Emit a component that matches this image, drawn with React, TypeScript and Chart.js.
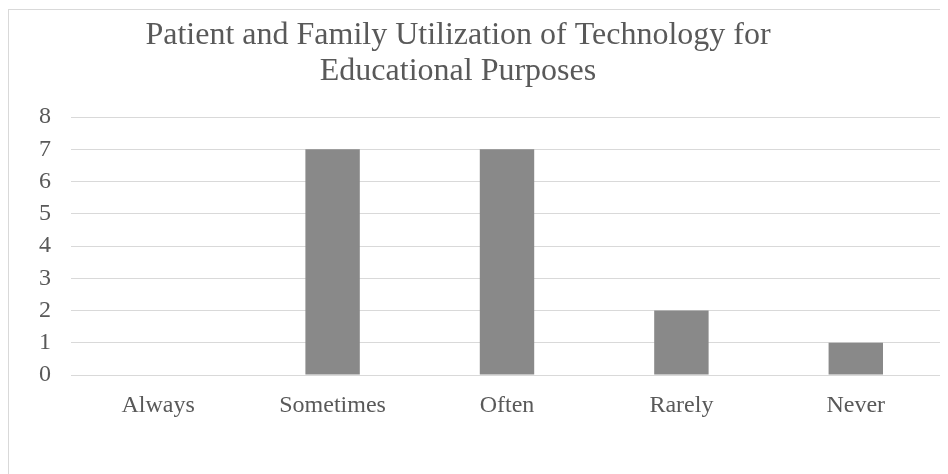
import React, { useEffect, useRef } from "react";
import { Chart, registerables } from "chart.js";

Chart.register(...registerables);

const titleLines = ["Patient and Family Utilization of Technology for", "Educational Purposes"];
const categories = ["Always", "Sometimes", "Often", "Rarely", "Never"];
const counts = [0, 7, 7, 2, 1];
const yMin = 0;
const yMax = 8;
const yStep = 1;

const FONT = '"Liberation Serif", "Times New Roman", serif';
const TEXT = "#595959";

const titlePlugin = {
  id: "customTitle",
  afterDraw(chart: any) {
    const ctx = chart.ctx;
    ctx.save();
    ctx.font = `32px ${FONT}`;
    ctx.fillStyle = TEXT;
    ctx.textAlign = "center";
    ctx.textBaseline = "alphabetic";
    ctx.fillText(titleLines[0], 449, 34);
    ctx.fillText(titleLines[1], 449, 70);
    ctx.restore();
  },
};

export default function App() {
  const ref = useRef<HTMLCanvasElement | null>(null);
  useEffect(() => {
    if (!ref.current) return;
    const chart = new Chart(ref.current, {
      type: "bar",
      data: {
        labels: categories,
        datasets: [
          {
            data: counts,
            backgroundColor: "#898989",
            borderWidth: 0,
            categoryPercentage: 1,
            barPercentage: 0.312,
          },
        ],
      },
      options: {
        responsive: false,
        animation: false,
        layout: { padding: { top: 107, right: 5, left: 0, bottom: 0 } },
        plugins: {
          legend: { display: false },
          title: { display: false },
          tooltip: { enabled: false },
        },
        scales: {
          x: {
            grid: { display: false, drawTicks: false },
            border: { display: false },
            ticks: {
              padding: 16,
              color: TEXT,
              font: { family: FONT, size: 24 },
              maxRotation: 0,
            },
            afterFit(scale: any) {
              scale.height = 99;
            },
          },
          y: {
            min: yMin,
            max: yMax,
            grid: { color: "#d9d9d9", lineWidth: 1, drawTicks: false },
            border: { display: false },
            ticks: {
              stepSize: yStep,
              padding: 20,
              color: TEXT,
              font: { family: FONT, size: 24 },
            },
            afterFit(scale: any) {
              scale.width = 62;
            },
          },
        },
      },
      plugins: [titlePlugin],
    });
    return () => chart.destroy();
  }, []);

  return (
    <div
      style={{
        borderLeft: "1px solid #d9d9d9",
        borderTop: "1px solid #d9d9d9",
        marginTop: 1,
        width: 939,
        height: 464,
        boxSizing: "content-box",
      }}
    >
      <canvas ref={ref} width={939} height={464} style={{ display: "block" }} />
    </div>
  );
}
